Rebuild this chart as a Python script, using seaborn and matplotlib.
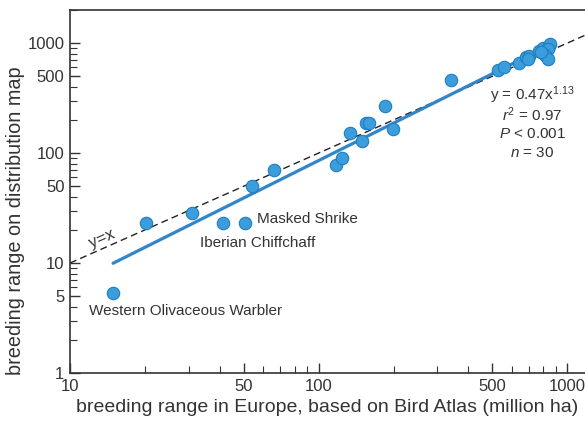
import numpy as np
import pandas as pd
import matplotlib
matplotlib.use("Agg")
import matplotlib.pyplot as plt
import matplotlib.ticker as mticker
import seaborn as sns

# breeding range, million ha
atlas_range = [14.9, 20.2, 31.0, 41.3, 50.7, 54.1, 66.2, 117.5, 124.5, 133.4,
               149.9, 155.1, 159.5, 185.0, 198.6, 341.0, 528.0, 558.0, 642.0, 683.0,
               704.0, 772.0, 801.0, 845.0, 853.0, 839.0, 814.0, 839.0, 785.0, 692.0]
map_range = [5.3, 23.3, 28.6, 23.0, 23.1, 50.6, 70.2, 77.9, 89.6, 152.7,
             127.6, 189.6, 189.6, 268.0, 166.0, 458.0, 572.0, 604.0, 666.0, 744.0,
             766.0, 855.0, 897.0, 944.0, 984.0, 879.0, 782.0, 713.0, 829.0, 724.0]
species = [""] * 30
species[0] = "Western Olivaceous Warbler"
species[3] = "Iberian Chiffchaff"
species[4] = "Masked Shrike"

fit_a, fit_b = 0.47, 1.13
stats_lines = ["y = 0.47x$^{1.13}$", "$r^2$ = 0.97", "$P$ < 0.001", "$n$ = 30"]

df = pd.DataFrame({"atlas": atlas_range, "area": map_range, "species": species})

sns.set_style("ticks")
plt.rcParams["font.family"] = ["Liberation Sans", "DejaVu Sans"]
plt.rcParams["mathtext.fontset"] = "custom"
plt.rcParams["mathtext.rm"] = "Liberation Sans"
plt.rcParams["mathtext.it"] = "Liberation Sans:italic"

ink = "#333333"
fig = plt.figure(figsize=(5.85, 4.21), dpi=100)
ax = fig.add_axes([70 / 585, 48 / 421, 1 - 70 / 585, 363 / 421])
ax.set_xscale("log")
ax.set_yscale("log")
ax.set_xlim(10, 1178)
ax.set_ylim(1, 2000)

# y = x reference
xs = np.array([10, 1178])
ax.plot(xs, xs, color="#222222", lw=1.0, ls=(0, (5, 3)), zorder=1)

# power-law fit
xf = np.linspace(min(atlas_range), max(atlas_range), 50)
ax.plot(xf, fit_a * xf ** fit_b, color="#2f86c8", lw=2.3, zorder=2)

sns.scatterplot(data=df, x="atlas", y="area", ax=ax, s=80, color="#3b9ddb",
                edgecolor="#1f7ec0", linewidth=0.8, zorder=3, legend=False)

offsets = {"Western Olivaceous Warbler": (-24, -18),
           "Iberian Chiffchaff": (-23, -20),
           "Masked Shrike": (12, 4)}
for _, row in df[df.species != ""].iterrows():
    ax.annotate(row["species"], (row["atlas"], row["area"]),
                xytext=offsets[row["species"]], textcoords="offset pixels",
                ha="left", va="center", fontsize=11, color=ink)

ax.annotate("y=x", (13.4, 13.4), xytext=(0, 10), textcoords="offset pixels",
            rotation=24, ha="center", va="center", fontsize=12, color=ink)

for i, t in enumerate(stats_lines):
    fig.text(532 / 585, 1 - (95 + 19.3 * i) / 421, t, fontsize=11,
             color=ink, ha="center", va="center")

ticks = [1, 5, 10, 50, 100, 500, 1000]
ax.xaxis.set_major_locator(mticker.FixedLocator([10, 50, 100, 500, 1000]))
ax.yaxis.set_major_locator(mticker.FixedLocator(ticks))
ax.xaxis.set_major_formatter(mticker.FuncFormatter(lambda v, p: f"{v:g}"))
ax.yaxis.set_major_formatter(mticker.FuncFormatter(lambda v, p: f"{v:g}"))
ax.xaxis.set_minor_locator(mticker.LogLocator(subs=np.arange(2, 10)))
ax.yaxis.set_minor_locator(mticker.LogLocator(subs=np.arange(2, 10)))
ax.xaxis.set_minor_formatter(mticker.NullFormatter())
ax.yaxis.set_minor_formatter(mticker.NullFormatter())
ax.tick_params(which="both", direction="in", color=ink, labelcolor=ink, labelsize=12)
ax.tick_params(which="major", length=7, width=1.0, pad=4)
ax.tick_params(which="minor", length=5, width=0.8)

for side in ["left", "bottom", "top"]:
    ax.spines[side].set_color(ink)
    ax.spines[side].set_linewidth(1.2)
ax.spines["right"].set_visible(False)

ax.set_xlabel("breeding range in Europe, based on Bird Atlas (million ha)",
              fontsize=14, color=ink)
ax.set_ylabel("breeding range on distribution map", fontsize=14.3, color=ink)
ax.xaxis.set_label_coords(0.5, -0.072)
ax.yaxis.set_label_coords(-0.087, 0.419)

fig.savefig("out.png", dpi=100)
